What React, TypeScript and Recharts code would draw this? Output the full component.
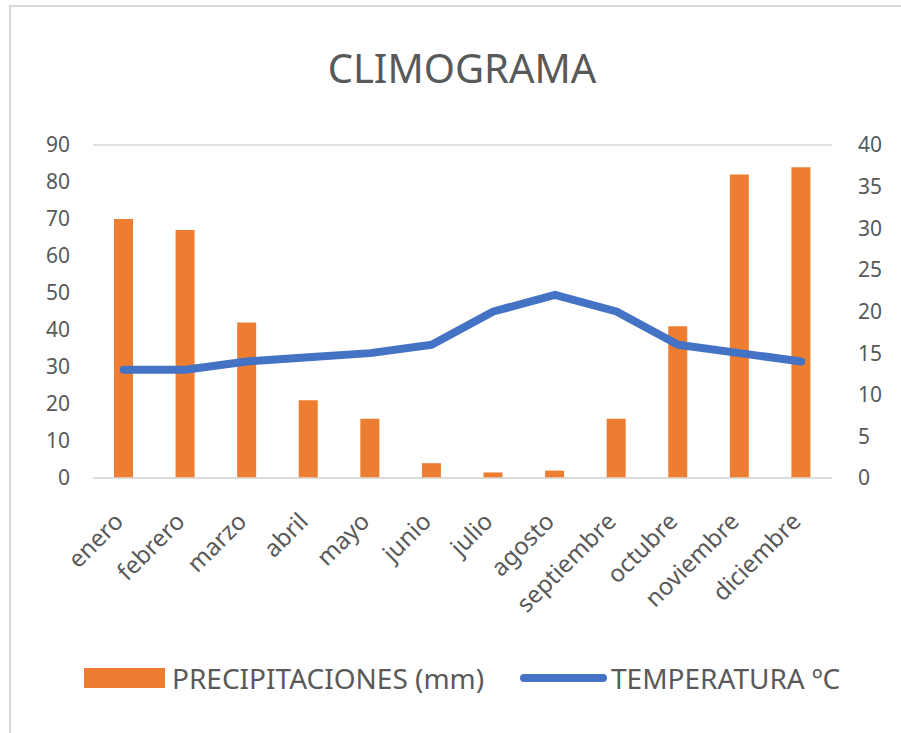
import { ComposedChart, Bar, Line, XAxis, YAxis, CartesianGrid, Legend } from 'recharts';

const months = ['enero', 'febrero', 'marzo', 'abril', 'mayo', 'junio', 'julio', 'agosto', 'septiembre', 'octubre', 'noviembre', 'diciembre'];
const precipitaciones = [70, 67, 42, 21, 16, 4, 1.5, 2, 16, 41, 82, 84];
const temperatura = [13, 13, 14, 14.5, 15, 16, 20, 22, 20, 16, 15, 14];
const leftTicks = [0, 10, 20, 30, 40, 50, 60, 70, 80, 90];
const rightTicks = [0, 5, 10, 15, 20, 25, 30, 35, 40];

const data = months.map((m, i) => ({ mes: m, precip: precipitaciones[i], temp: temperatura[i] }));

const FONT = '"Noto Sans", sans-serif';
const TEXT = '#595959';

const MonthTick = (props: any) => {
    const { x, y, payload } = props;
    const ax = x + 1;
    const ay = y + 37;
    return (
        <text
            x={ax}
            y={ay}
            transform={`rotate(-45, ${ax}, ${ay})`}
            textAnchor="end"
            fontSize={24}
            fill={TEXT}
            fontFamily={FONT}
        >
            {payload.value}
        </text>
    );
};

const ChartLegend = () => (
    <div style={{ position: 'relative', height: 40, fontFamily: FONT, color: TEXT, fontSize: 28 }}>
        <div style={{ position: 'absolute', left: 84, top: 9, width: 81, height: 20, background: '#ED7D31' }} />
        <span style={{ position: 'absolute', left: 172, top: 0, lineHeight: '38px' }}>PRECIPITACIONES (mm)</span>
        <div style={{ position: 'absolute', left: 520, top: 15, width: 87, height: 8, background: '#4472C4', borderRadius: 4 }} />
        <span style={{ position: 'absolute', left: 611, top: 0, lineHeight: '38px' }}>TEMPERATURA ºC</span>
    </div>
);

const App = () => {
    return (
        <div style={{ position: 'absolute', left: 0, top: 0, width: 901, height: 733, background: '#fff', overflow: 'hidden' }}>
            <div style={{ position: 'absolute', left: 9, top: 5, width: 1000, height: 1000, border: '2px solid #d9d9d9' }} />
            <div style={{ position: 'absolute', left: 0, width: 924, top: 40, textAlign: 'center', fontFamily: FONT, fontSize: 40, color: TEXT }}>
                CLIMOGRAMA
            </div>
            <div style={{ position: 'absolute', left: 0, top: 0 }}>
                <ComposedChart width={901} height={733} data={data} margin={{ top: 145, right: 0, left: 0, bottom: 0 }}>
                    <CartesianGrid vertical={false} stroke="#d9d9d9" strokeWidth={1.5} />
                    <XAxis
                        dataKey="mes"
                        tick={<MonthTick />}
                        tickLine={false}
                        axisLine={{ stroke: '#d9d9d9', strokeWidth: 1.5 }}
                        interval={0}
                        height={255}
                    />
                    <YAxis
                        yAxisId="left"
                        domain={[0, 90]}
                        ticks={leftTicks}
                        width={93}
                        tickLine={false}
                        axisLine={false}
                        tickMargin={17}
                        tick={{ fill: TEXT, fontSize: 21, fontFamily: FONT }}
                    />
                    <YAxis
                        yAxisId="right"
                        orientation="right"
                        domain={[0, 40]}
                        ticks={rightTicks}
                        width={69}
                        tickLine={false}
                        axisLine={false}
                        tickMargin={20}
                        tick={{ fill: TEXT, fontSize: 21, fontFamily: FONT }}
                    />
                    <Bar yAxisId="left" dataKey="precip" name="PRECIPITACIONES (mm)" fill="#ED7D31" barSize={19} isAnimationActive={false} />
                    <Line
                        yAxisId="right"
                        dataKey="temp"
                        name="TEMPERATURA ºC"
                        type="linear"
                        stroke="#4472C4"
                        strokeWidth={8}
                        strokeLinecap="round"
                        strokeLinejoin="round"
                        dot={false}
                        isAnimationActive={false}
                    />
                    <Legend
                        verticalAlign="middle"
                        align="center"
                        content={<ChartLegend />}
                        wrapperStyle={{ top: 659, left: 0, width: 901 }}
                    />
                </ComposedChart>
            </div>
        </div>
    );
};

export default App;
